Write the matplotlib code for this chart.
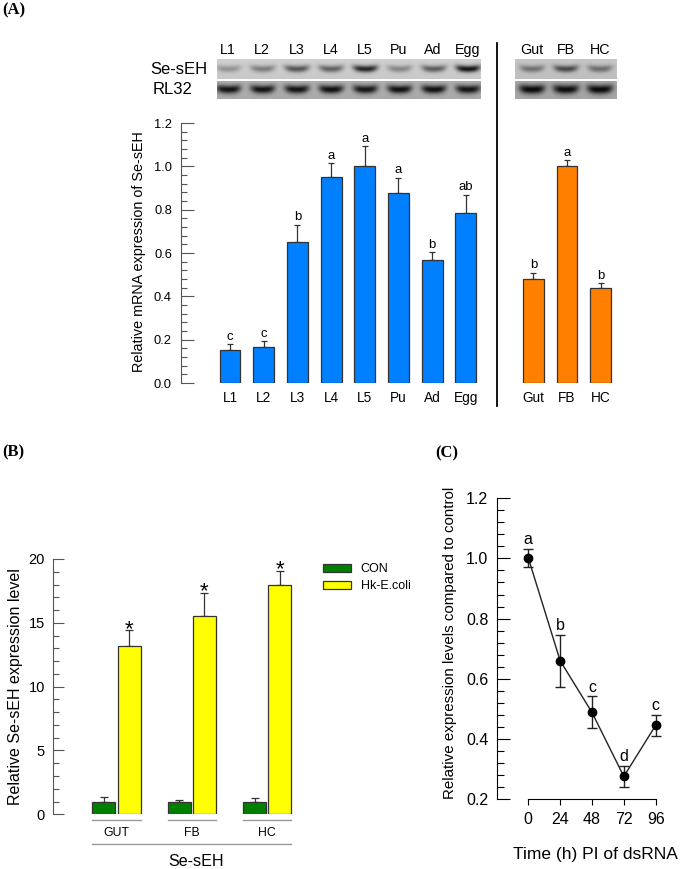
import numpy as np
import matplotlib
matplotlib.use('Agg')
import matplotlib.pyplot as plt
from matplotlib import transforms
from matplotlib.ticker import MultipleLocator, FormatStrFormatter
from matplotlib.lines import Line2D
from matplotlib.patches import Patch

plt.rcParams['font.family'] = ['Liberation Sans', 'DejaVu Sans']

# ---------------- Panel A data ----------------
stages = ['L1', 'L2', 'L3', 'L4', 'L5', 'Pu', 'Ad', 'Egg']
stage_means = [0.153, 0.166, 0.650, 0.953, 1.000, 0.876, 0.569, 0.783]
stage_errs = [0.026, 0.026, 0.081, 0.062, 0.093, 0.072, 0.034, 0.086]
stage_letters = ['c', 'c', 'b', 'a', 'a', 'a', 'b', 'ab']
tissues = ['Gut', 'FB', 'HC']
tissue_means = [0.480, 1.000, 0.437]
tissue_errs = [0.030, 0.027, 0.023]
tissue_letters = ['b', 'a', 'b']
gel_rows = ['Se-sEH', 'RL32']
gel_stage_target = [0.30, 0.42, 0.62, 0.56, 0.88, 0.36, 0.58, 0.97]
gel_stage_ref = [0.93, 0.93, 0.93, 0.95, 0.91, 0.94, 0.95, 0.93]
gel_tissue_target = [0.45, 0.68, 0.47]
gel_tissue_ref = [0.99, 0.97, 0.99]

# ---------------- Panel B data ----------------
groups_b = ['GUT', 'FB', 'HC']
series_b = ['CON', 'Hk-E.coli']
con_means = [1.0, 1.0, 1.0]
con_errs = [0.36, 0.15, 0.25]
hk_means = [13.16, 15.54, 17.94]
hk_errs = [1.25, 1.82, 1.15]

# ---------------- Panel C data ----------------
time_h = [0, 24, 48, 72, 96]
rel_expr = [1.002, 0.660, 0.488, 0.275, 0.445]
rel_err = [0.031, 0.087, 0.053, 0.036, 0.035]
time_letters = ['a', 'b', 'c', 'd', 'c']

W, H = 685, 869
fig = plt.figure(figsize=(W / 100, H / 100), dpi=100)


def rect(x0, y0, x1, y1):
    return [x0 / W, 1 - y1 / H, (x1 - x0) / W, (y1 - y0) / H]


def fx(x):
    return x / W


def fy(y):
    return 1 - y / H


EDGE = '#333333'
AXC = '#555555'

# ======================= Panel A =======================
axA = fig.add_axes(rect(181, 123, 630, 383))
sx = np.arange(len(stages))
tx = np.arange(len(tissues)) + len(stages) + 1
axA.bar(sx, stage_means, width=0.62, color='#0080FF', edgecolor=EDGE, linewidth=0.9, zorder=2)
axA.bar(tx, tissue_means, width=0.62, color='#FF8000', edgecolor=EDGE, linewidth=0.9, zorder=2)
for xs, m, e in ((sx, stage_means, stage_errs), (tx, tissue_means, tissue_errs)):
    axA.errorbar(xs, m, yerr=[np.zeros(len(e)), e], fmt='none', ecolor=EDGE,
                 elinewidth=0.9, capsize=2.5, capthick=0.9, zorder=1)
for x, m, e, l in zip(list(sx) + list(tx), stage_means + tissue_means,
                      stage_errs + tissue_errs, stage_letters + tissue_letters):
    axA.text(x, m + e + 0.006, l, ha='center', va='bottom', fontsize=9.5)
axA.set_xlim(-1.454, 11.87)
axA.set_ylim(0, 1.2)
for s in ('top', 'right', 'bottom'):
    axA.spines[s].set_visible(False)
axA.spines['left'].set_color(AXC)
axA.spines['left'].set_bounds(0, 1.2)
axA.yaxis.set_major_locator(MultipleLocator(0.2))
axA.yaxis.set_minor_locator(MultipleLocator(0.04))
axA.yaxis.set_major_formatter(FormatStrFormatter('%.1f'))
axA.tick_params(axis='y', which='major', direction='in', length=9, width=0.8,
                color=AXC, pad=6.5, labelsize=9.3)
axA.tick_params(axis='y', which='minor', direction='in', length=4.5, width=0.8, color=AXC)
axA.set_xticks(list(sx) + list(tx))
axA.set_xticklabels(stages + tissues)
axA.tick_params(axis='x', length=0, pad=6, labelsize=9.8)
fig.text(fx(139), fy(252), 'Relative mRNA expression of Se-sEH', rotation=90,
         ha='center', va='center', fontsize=10.4)

# divider line
fig.add_artist(Line2D([fx(496.7)] * 2, [fy(43), fy(405.7)], color='black', lw=1.3))


# gels
def draw_gel(ax, intens, bg, dark, bw, bh, xlim):
    xs = np.linspace(xlim[0], xlim[1], 500)
    ys = np.linspace(0, 1, 80)
    X, Y = np.meshgrid(xs, ys)
    img = np.full(X.shape, bg) + 0.03 * (Y - 0.5)
    for i, v in enumerate(intens):
        prof = np.exp(-((X - i) / bw) ** 4) * np.exp(-((Y - 0.5 - 0.08 * ((X - i) / bw) ** 2) / bh) ** 2)
        img = img - (bg - dark) * v * prof
    ax.imshow(img, cmap='gray', vmin=0, vmax=1, extent=(xlim[0], xlim[1], 0, 1),
              aspect='auto', interpolation='bilinear', origin='lower')
    ax.set_xlim(xlim)
    ax.set_ylim(0, 1)
    ax.axis('off')


xl_left = (-0.33, 7.37)
xl_right = (-0.5, 2.5)
g1 = fig.add_axes(rect(216.7, 59.3, 480, 79.3))
draw_gel(g1, gel_stage_target, 0.80, 0.05, 0.36, 0.17, xl_left)
g2 = fig.add_axes(rect(216.7, 81, 480, 99.3))
draw_gel(g2, gel_stage_ref, 0.68, 0.02, 0.36, 0.22, xl_left)
g3 = fig.add_axes(rect(515, 59.3, 616.7, 79.3))
draw_gel(g3, gel_tissue_target, 0.76, 0.05, 0.36, 0.17, xl_right)
g4 = fig.add_axes(rect(515, 81, 616.7, 99.3))
draw_gel(g4, gel_tissue_ref, 0.66, 0.02, 0.38, 0.24, xl_right)
for i, s in enumerate(stages):
    g1.text(i, 1.47, s, ha='center', va='center', fontsize=10.3, clip_on=False)
for i, s in enumerate(tissues):
    g3.text(i, 1.47, s, ha='center', va='center', fontsize=10.3, clip_on=False)
fig.text(fx(150), fy(69), gel_rows[0], ha='left', va='center', fontsize=12)
fig.text(fx(153), fy(90), gel_rows[1], ha='left', va='center', fontsize=12)

# ======================= Panel B =======================
axB = fig.add_axes(rect(52.7, 559, 300, 814.3))
gx = np.arange(len(groups_b))
off, bw = 0.167, 0.305
axB.bar(gx - off, con_means, width=bw, color='#008000', edgecolor=EDGE, linewidth=0.9, zorder=2)
axB.bar(gx + off, hk_means, width=bw, color='#FFFF00', edgecolor=EDGE, linewidth=0.9, zorder=2)
axB.errorbar(gx - off, con_means, yerr=[np.zeros(3), con_errs], fmt='none', ecolor=EDGE,
             elinewidth=0.9, capsize=3, capthick=0.9, zorder=1)
axB.errorbar(gx + off, hk_means, yerr=[np.zeros(3), hk_errs], fmt='none', ecolor=EDGE,
             elinewidth=0.9, capsize=3, capthick=0.9, zorder=1)
for x, m, e in zip(gx + off, hk_means, hk_errs):
    axB.text(x, m + e - 0.35, '*', ha='center', va='baseline', fontsize=16)
axB.set_xlim(-0.846, 2.434)
axB.set_ylim(0, 20)
for s in ('top', 'right', 'bottom'):
    axB.spines[s].set_visible(False)
axB.spines['left'].set_color(AXC)
axB.spines['left'].set_bounds(0, 20)
axB.yaxis.set_major_locator(MultipleLocator(5))
axB.yaxis.set_minor_locator(MultipleLocator(1))
axB.tick_params(axis='y', which='major', direction='in', length=7.7, width=0.8,
                color=AXC, pad=5.5, labelsize=10.5)
axB.tick_params(axis='y', which='minor', direction='in', length=4, width=0.8, color=AXC)
axB.set_xticks([])
bt = transforms.blended_transform_factory(axB.transData, axB.transAxes)
for x, g in zip(gx, groups_b):
    axB.plot([x - off - bw / 2, x + off + bw / 2], [-0.0223, -0.0223], transform=bt,
             color='#999999', lw=1, clip_on=False)
    axB.text(x, -0.0732, g, transform=bt, ha='center', va='center', fontsize=8.8)
axB.plot([gx[0] - off - bw / 2, gx[-1] + off + bw / 2], [-0.1163, -0.1163], transform=bt,
         color='#999999', lw=1, clip_on=False)
axB.text(gx.mean() + 0.05, -0.1868, 'Se-sEH', transform=bt, ha='center', va='center', fontsize=11.6)
fig.text(fx(15.7), fy(686.7), 'Relative Se-sEH expression level', rotation=90,
         ha='center', va='center', fontsize=11.5)
handles = [Patch(facecolor='#008000', edgecolor=EDGE, linewidth=0.9),
           Patch(facecolor='#FFFF00', edgecolor=EDGE, linewidth=0.9)]
fig.legend(handles, series_b, loc='upper left', bbox_to_anchor=(fx(323), fy(563)),
           frameon=False, fontsize=9, handlelength=2.2, handleheight=0.6,
           handletextpad=0.8, labelspacing=0.4, borderpad=0, borderaxespad=0)

# ======================= Panel C =======================
axC = fig.add_axes(rect(496.7, 498.3, 670, 799))
axC.errorbar(time_h, rel_expr, yerr=rel_err, fmt='-o', color='#222222', mfc='black',
             mec='black', ms=6, lw=1, elinewidth=1, capsize=3.5, capthick=1, clip_on=False)
for x, m, e, l in zip(time_h, rel_expr, rel_err, time_letters):
    axC.text(x, m + e + 0.006, l, ha='center', va='bottom', fontsize=11.5)
axC.set_xlim(-23.8, 106.8)
axC.set_ylim(0.2, 1.2)
for s in ('top', 'right'):
    axC.spines[s].set_visible(False)
axC.spines['left'].set_bounds(0.2, 1.2)
axC.spines['bottom'].set_bounds(0, 96)
axC.yaxis.set_major_locator(MultipleLocator(0.2))
axC.yaxis.set_minor_locator(MultipleLocator(0.04))
axC.yaxis.set_major_formatter(FormatStrFormatter('%.1f'))
axC.set_xticks(time_h)
axC.tick_params(axis='y', which='major', direction='in', length=9.4, width=0.8, pad=6, labelsize=11.5)
axC.tick_params(axis='y', which='minor', direction='in', length=4.8, width=0.8)
axC.tick_params(axis='x', which='major', direction='out', length=4.3, width=0.8, pad=5, labelsize=11.5)
fig.text(fx(450), fy(643.3), 'Relative expression levels compared to control', rotation=90,
         ha='center', va='center', fontsize=10.9)
fig.text(fx(595.8), fy(855), 'Time (h) PI of dsRNA', ha='center', va='center', fontsize=12.5)

# panel labels
for lbl, x, y in (('(A)', 2, 10), ('(B)', 2, 452.7), ('(C)', 435, 453)):
    fig.text(fx(x), fy(y), lbl, ha='left', va='center', fontsize=12,
             fontfamily='Liberation Serif', fontweight='bold')

fig.savefig('out.png', dpi=100)
